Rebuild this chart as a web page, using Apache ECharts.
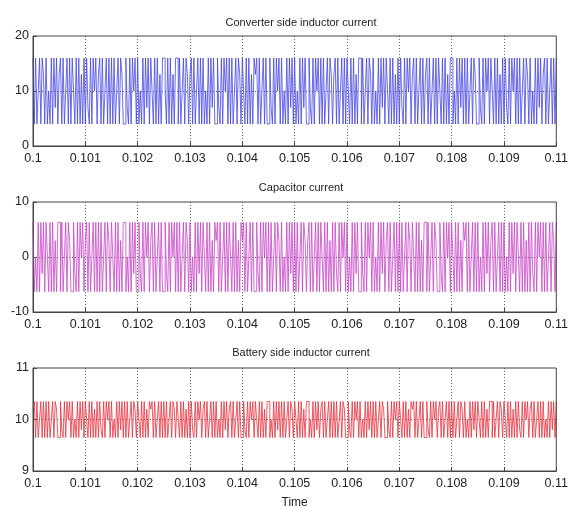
<!DOCTYPE html>
<html>
<head>
<meta charset="utf-8">
<script src="https://cdn.jsdelivr.net/npm/echarts@6/dist/echarts.min.js"></script>
<style>html,body{margin:0;padding:0;background:#fff}#c{width:571px;height:510px}</style>
</head>
<body>
<div id="c"></div>
<script>
// Time axis: 0.1 .. 0.11 s, sampled every 0.000025 s
const tStart = 0.1;
const tStep = 0.000025;
const xTicks = ['0.1','0.101','0.102','0.103','0.104','0.105','0.106','0.107','0.108','0.109','0.11'];
const titles = ['Converter side inductor current', 'Capacitor current', 'Battery side inductor current'];

// Converter side inductor current (A)
const converterCurrent = [
16,4,16,4,10,16,4,16,13,4,
16,4,10,4,16,4,16,7,16,4,
13,16,4,16,4,10,16,4,16,4,
16,10,4,16,4,16,4,13,4,16,
4,16,7,4,16,4,16,10,16,4,
13,16,4,16,4,10,16,4,16,4,
16,4,16,4,10,16,4,16,13,4,
4,16,7,4,16,4,16,10,16,4,
16,4,10,4,16,4,16,7,16,4,
16,10,4,16,4,16,4,13,4,16,
16,10,4,16,4,16,4,13,4,16,
16,4,16,4,10,16,4,16,13,4,
13,16,4,16,4,10,16,4,16,4,
16,4,10,4,16,4,16,7,16,4,
4,16,7,4,16,4,16,10,16,4,
16,4,16,4,10,16,4,16,13,4,
16,10,4,16,4,16,4,13,4,16,
13,16,4,16,4,10,16,4,16,4,
4,16,7,4,16,4,16,10,16,4,
16,4,10,4,16,4,16,7,16,4,
16,4,10,4,16,4,16,7,16,4,
4,16,7,4,16,4,16,10,16,4,
16,4,16,4,10,16,4,16,13,4,
13,16,4,16,4,10,16,4,16,4,
16,10,4,16,4,16,4,13,4,16,
16,4,16,4,10,16,4,16,13,4,
16,4,10,4,16,4,16,7,16,4,
16,10,4,16,4,16,4,13,4,16,
4,16,7,4,16,4,16,10,16,4,
13,16,4,16,4,10,16,4,16,4,
13,16,4,16,4,10,16,4,16,4,
16,10,4,16,4,16,4,13,4,16,
16,4,10,4,16,4,16,7,16,4,
16,4,16,4,10,16,4,16,13,4,
4,16,7,4,16,4,16,10,16,4,
16,10,4,16,4,16,4,13,4,16,
4,16,7,4,16,4,16,10,16,4,
16,4,16,4,10,16,4,16,13,4,
16,4,10,4,16,4,16,7,16,4,
13,16,4,16,4,10,16,4,16,4,
16
];

// Capacitor current (A)
const capacitorCurrent = [
6.3,-6.3,0,-6.3,6.3,-6.3,6.3,-3,6.3,-6.3,
6.3,0,-6.3,6.3,-6.3,6.3,-6.3,3,-6.3,6.3,
6.3,-6.3,6.3,-6.3,0,6.3,-6.3,6.3,3,-6.3,
-6.3,6.3,-3,-6.3,6.3,-6.3,6.3,0,6.3,-6.3,
3,6.3,-6.3,6.3,-6.3,0,6.3,-6.3,6.3,-6.3,
6.3,-6.3,6.3,-6.3,0,6.3,-6.3,6.3,3,-6.3,
6.3,0,-6.3,6.3,-6.3,6.3,-6.3,3,-6.3,6.3,
6.3,-6.3,0,-6.3,6.3,-6.3,6.3,-3,6.3,-6.3,
-6.3,6.3,-3,-6.3,6.3,-6.3,6.3,0,6.3,-6.3,
3,6.3,-6.3,6.3,-6.3,0,6.3,-6.3,6.3,-6.3,
-6.3,6.3,-3,-6.3,6.3,-6.3,6.3,0,6.3,-6.3,
6.3,-6.3,6.3,-6.3,0,6.3,-6.3,6.3,3,-6.3,
6.3,-6.3,0,-6.3,6.3,-6.3,6.3,-3,6.3,-6.3,
6.3,0,-6.3,6.3,-6.3,6.3,-6.3,3,-6.3,6.3,
3,6.3,-6.3,6.3,-6.3,0,6.3,-6.3,6.3,-6.3,
6.3,0,-6.3,6.3,-6.3,6.3,-6.3,3,-6.3,6.3,
3,6.3,-6.3,6.3,-6.3,0,6.3,-6.3,6.3,-6.3,
-6.3,6.3,-3,-6.3,6.3,-6.3,6.3,0,6.3,-6.3,
6.3,-6.3,6.3,-6.3,0,6.3,-6.3,6.3,3,-6.3,
6.3,-6.3,0,-6.3,6.3,-6.3,6.3,-3,6.3,-6.3,
6.3,-6.3,6.3,-6.3,0,6.3,-6.3,6.3,3,-6.3,
3,6.3,-6.3,6.3,-6.3,0,6.3,-6.3,6.3,-6.3,
6.3,0,-6.3,6.3,-6.3,6.3,-6.3,3,-6.3,6.3,
-6.3,6.3,-3,-6.3,6.3,-6.3,6.3,0,6.3,-6.3,
6.3,-6.3,0,-6.3,6.3,-6.3,6.3,-3,6.3,-6.3,
-6.3,6.3,-3,-6.3,6.3,-6.3,6.3,0,6.3,-6.3,
6.3,-6.3,0,-6.3,6.3,-6.3,6.3,-3,6.3,-6.3,
3,6.3,-6.3,6.3,-6.3,0,6.3,-6.3,6.3,-6.3,
6.3,-6.3,6.3,-6.3,0,6.3,-6.3,6.3,3,-6.3,
6.3,0,-6.3,6.3,-6.3,6.3,-6.3,3,-6.3,6.3,
6.3,-6.3,6.3,-6.3,0,6.3,-6.3,6.3,3,-6.3,
-6.3,6.3,-3,-6.3,6.3,-6.3,6.3,0,6.3,-6.3,
6.3,0,-6.3,6.3,-6.3,6.3,-6.3,3,-6.3,6.3,
3,6.3,-6.3,6.3,-6.3,0,6.3,-6.3,6.3,-6.3,
6.3,-6.3,0,-6.3,6.3,-6.3,6.3,-3,6.3,-6.3,
3,6.3,-6.3,6.3,-6.3,0,6.3,-6.3,6.3,-6.3,
6.3,-6.3,0,-6.3,6.3,-6.3,6.3,-3,6.3,-6.3,
6.3,0,-6.3,6.3,-6.3,6.3,-6.3,3,-6.3,6.3,
-6.3,6.3,-3,-6.3,6.3,-6.3,6.3,0,6.3,-6.3,
6.3,-6.3,6.3,-6.3,0,6.3,-6.3,6.3,3,-6.3,
6.3
];

// Battery side inductor current (A)
const batteryCurrent = [
10.2,10.35,9.65,10.35,9.65,10,10.35,9.65,10.35,9.65,
10.35,9.65,10.35,9.65,10,10.35,9.65,10.35,10.2,9.65,
9.65,10.35,9.8,9.65,10.35,9.65,10.35,10,10.35,9.65,
10.35,9.65,10,9.65,10.35,9.65,10.35,9.8,10.35,9.65,
10.35,10,9.65,10.35,9.65,10.35,9.65,10.2,9.65,10.35,
9.65,10.35,9.8,9.65,10.35,9.65,10.35,10,10.35,9.65,
10.35,9.65,10,9.65,10.35,9.65,10.35,9.8,10.35,9.65,
10.35,9.65,10.35,9.65,10,10.35,9.65,10.35,10.2,9.65,
10.35,10,9.65,10.35,9.65,10.35,9.65,10.2,9.65,10.35,
10.2,10.35,9.65,10.35,9.65,10,10.35,9.65,10.35,9.65,
10.35,9.65,10.35,9.65,10,10.35,9.65,10.35,10.2,9.65,
10.35,10,9.65,10.35,9.65,10.35,9.65,10.2,9.65,10.35,
9.65,10.35,9.8,9.65,10.35,9.65,10.35,10,10.35,9.65,
10.2,10.35,9.65,10.35,9.65,10,10.35,9.65,10.35,9.65,
10.35,9.65,10,9.65,10.35,9.65,10.35,9.8,10.35,9.65,
10.2,10.35,9.65,10.35,9.65,10,10.35,9.65,10.35,9.65,
9.65,10.35,9.8,9.65,10.35,9.65,10.35,10,10.35,9.65,
10.35,10,9.65,10.35,9.65,10.35,9.65,10.2,9.65,10.35,
10.35,9.65,10,9.65,10.35,9.65,10.35,9.8,10.35,9.65,
10.35,9.65,10.35,9.65,10,10.35,9.65,10.35,10.2,9.65,
10.35,10,9.65,10.35,9.65,10.35,9.65,10.2,9.65,10.35,
10.35,9.65,10,9.65,10.35,9.65,10.35,9.8,10.35,9.65,
10.2,10.35,9.65,10.35,9.65,10,10.35,9.65,10.35,9.65,
10.35,9.65,10.35,9.65,10,10.35,9.65,10.35,10.2,9.65,
9.65,10.35,9.8,9.65,10.35,9.65,10.35,10,10.35,9.65,
10.35,9.65,10,9.65,10.35,9.65,10.35,9.8,10.35,9.65,
10.35,9.65,10.35,9.65,10,10.35,9.65,10.35,10.2,9.65,
9.65,10.35,9.8,9.65,10.35,9.65,10.35,10,10.35,9.65,
10.35,10,9.65,10.35,9.65,10.35,9.65,10.2,9.65,10.35,
10.2,10.35,9.65,10.35,9.65,10,10.35,9.65,10.35,9.65,
9.65,10.35,9.8,9.65,10.35,9.65,10.35,10,10.35,9.65,
10.2,10.35,9.65,10.35,9.65,10,10.35,9.65,10.35,9.65,
10.35,9.65,10.35,9.65,10,10.35,9.65,10.35,10.2,9.65,
10.35,9.65,10,9.65,10.35,9.65,10.35,9.8,10.35,9.65,
10.35,10,9.65,10.35,9.65,10.35,9.65,10.2,9.65,10.35,
10.35,9.65,10.35,9.65,10,10.35,9.65,10.35,10.2,9.65,
10.35,10,9.65,10.35,9.65,10.35,9.65,10.2,9.65,10.35,
9.65,10.35,9.8,9.65,10.35,9.65,10.35,10,10.35,9.65,
10.2,10.35,9.65,10.35,9.65,10,10.35,9.65,10.35,9.65,
10.35,9.65,10,9.65,10.35,9.65,10.35,9.8,10.35,9.65,
10.35
];

const yRanges = [[0, 20, 10], [-10, 10, 10], [9, 11, 1]];
const colors = ['#4646e6', '#c846c8', '#e8323f'];
const seriesValues = [converterCurrent, capacitorCurrent, batteryCurrent];

const gridTops = [36, 202, 368];
const gridHeights = [110, 110, 108];
const titleTops = [12, 177, 342];

const chart = echarts.init(document.getElementById('c'), null, {renderer: 'canvas'});
const font = 'Liberation Sans, Arial, sans-serif';

const option = {
  animation: false,
  backgroundColor: '#fff',
  title: titles.map((t, i) => ({
    text: t, left: 296, top: titleTops[i], textAlign: 'center',
    textStyle: {fontSize: 11, fontWeight: 'normal', color: '#222', fontFamily: font}
  })),
  grid: gridTops.map((top, i) => ({
    left: 33, right: 12, top: top, height: gridHeights[i], z: 5,
    show: true, borderColor: '#444', borderWidth: 1, backgroundColor: 'transparent'
  })),
  xAxis: gridTops.map((_, i) => ({
    type: 'value', gridIndex: i, min: 0.1, max: 0.11, interval: 0.001,
    name: i === 2 ? 'Time' : '', nameLocation: 'middle', nameGap: 26,
    nameTextStyle: {fontSize: 12, color: '#222', fontFamily: font},
    axisLine: {show: true, onZero: false, lineStyle: {color: '#444'}},
    axisTick: {show: true, inside: true, length: 4, lineStyle: {color: '#444'}},
    axisLabel: {
      fontSize: 12.5, color: '#222', fontFamily: font, margin: 6,
      formatter: v => xTicks[Math.round((v - tStart) / 0.001)]
    },
    splitLine: {show: true, showMinLine: false, showMaxLine: false,
      lineStyle: {color: '#666', type: [1, 2], width: 1}}
  })),
  yAxis: yRanges.map((r, i) => ({
    type: 'value', gridIndex: i, min: r[0], max: r[1], interval: r[2],
    axisLine: {show: true, lineStyle: {color: '#444'}},
    axisTick: {show: true, inside: true, length: 4, lineStyle: {color: '#444'}},
    axisLabel: {fontSize: 12.5, color: '#222', fontFamily: font, margin: 4},
    splitLine: {show: true, showMinLine: false, showMaxLine: false,
      lineStyle: {color: '#555', type: [1, 2], width: 1}}
  })),
  series: seriesValues.map((vals, i) => ({
    type: 'line', xAxisIndex: i, yAxisIndex: i, step: 'end', symbol: 'none',
    lineStyle: {color: colors[i], width: 0.8},
    z: 1,
    data: vals.map((v, k) => [tStart + k * tStep, v])
  }))
};
chart.setOption(option);
</script>
</body>
</html>
